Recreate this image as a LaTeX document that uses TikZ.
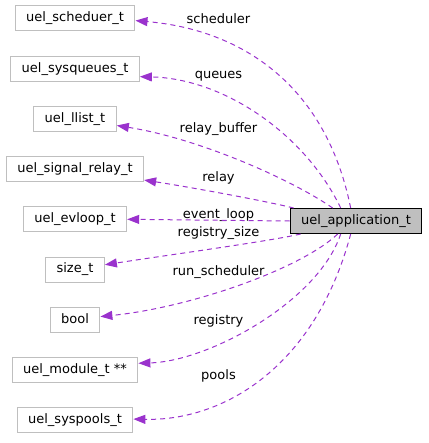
\documentclass[tikz,border=0pt]{standalone}
\usepackage{fontspec}
\setmainfont{DejaVu Sans}
\usetikzlibrary{arrows.meta,positioning}

\definecolor{boxgray}{HTML}{BFBFBF}
\definecolor{orchid}{HTML}{9A32CD}

\begin{document}
\begin{tikzpicture}[
    x=1pt, y=-1pt,
    node distance=24.2pt,
    font=\fontsize{13}{15}\selectfont,
    cls/.style={rectangle, draw=boxgray, line width=1pt, fill=white, minimum height=25pt, inner xsep=11pt, inner ysep=0pt, text height=9.6pt, text depth=2.8pt},
    focus/.style={cls, draw=black, fill=boxgray},
    member/.style={-{Triangle[length=12pt,width=9pt]}, draw=orchid, line width=1pt, dash pattern=on 5pt off 4pt},
    lbl/.style={anchor=base, inner sep=0pt}
]
\useasboundingbox (0,0) rectangle (428,443);

% --- Member types ---
\node[cls] at (75,18.5) (sched) {uel\_scheduer\_t};
\node[cls, below=of sched] (sysq) {uel\_sysqueues\_t};
\node[cls, below=of sysq] (llist) {uel\_llist\_t};
\node[cls, below=of llist] (sigrelay) {uel\_signal\_relay\_t};
\node[cls, below=of sigrelay] (evloop) {uel\_evloop\_t};
\node[cls, below=of evloop] (sizet) {size\_t};
\node[cls, below=of sizet] (boolt) {bool};
\node[cls, below=of boolt] (module) {uel\_module\_t **};
\node[cls, below=of module] (syspools) {uel\_syspools\_t};

% --- Application ---
\node[focus] at (356,221) (app) {uel\_application\_t};

% --- Member labels ---
\node[lbl] at (218.5,23.3) (l-sched) {scheduler};
\node[lbl] at (218.5,79) (l-sysq) {queues};
\node[lbl] at (218.5,133) (l-llist) {relay\_buffer};
\node[lbl] at (218.5,181.7) (l-sigrelay) {relay};
\node[lbl] at (218.5,218.3) (l-evloop) {event\_loop};
\node[lbl] at (218.5,236.7) (l-sizet) {registry\_size};
\node[lbl] at (218.5,275) (l-boolt) {run\_scheduler};
\node[lbl] at (218.5,324) (l-module) {registry};
\node[lbl] at (218.5,379) (l-syspools) {pools};

% --- Arrows ---
\draw[member] ([xshift=61pt]app.north west) .. controls +(-25,-124) and +(105,9) .. (sched.-2);
\draw[member] ([xshift=51pt]app.north west) .. controls +(-35,-73) and +(85,2) .. (sysq.-7);
\draw[member] ([xshift=43pt]app.north west) .. controls +(-42,-29) and +(82,13) .. (llist.-9);
\draw[member] ([xshift=4pt]app.north west) .. controls +(-33,-8) and +(45,7) .. (sigrelay.-9);
\draw[member] (app.west) -- (evloop.east);
\draw[member] ([xshift=11pt]app.south west) .. controls +(-30,7) and +(65,-10) .. (sizet.9);
\draw[member] ([xshift=48pt]app.south west) .. controls +(-37,35) and +(90,-9) .. (boolt.7);
\draw[member] ([xshift=51pt]app.south west) .. controls +(-22,67) and +(71,-2) .. (module.6);
\draw[member] ([xshift=61pt]app.south west) .. controls +(-35,132) and +(91,2) .. (syspools.1);

\end{tikzpicture}
\end{document}
